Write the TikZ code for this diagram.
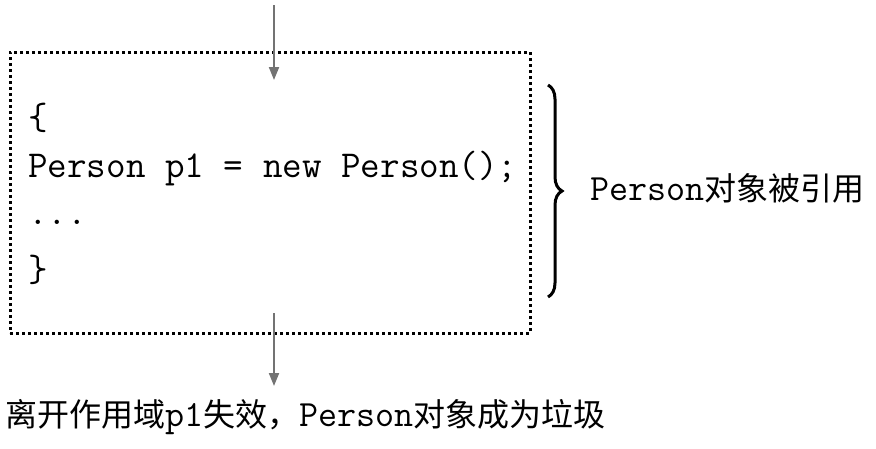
\documentclass[tikz,border=0pt]{standalone}
\usepackage{fontspec}
\newfontfamily\cjk{Noto Sans CJK SC}
\usetikzlibrary{arrows.meta,decorations.pathreplacing}
\tikzset{
  codeline/.style={anchor=west, inner sep=0pt, font=\fontsize{38}{44}\selectfont\ttfamily},
  label/.style={anchor=west, inner sep=0pt, font=\fontsize{32}{38}\selectfont},
  flowarrow/.style={draw=black!55, line width=2pt, -{Triangle[length=13pt,width=10pt]}},
  dotbox/.style={draw=black, line width=3pt, dash pattern=on 3pt off 3pt, minimum width=520pt, minimum height=281pt, inner sep=0pt},
  bracestyle/.style={decorate, decoration={brace, amplitude=14pt}, line width=3pt}
}
\newcommand{\lt}[1]{{\fontsize{37}{44}\selectfont\ttfamily #1}}
\begin{document}
\begin{tikzpicture}[x=1pt,y=1pt]
\useasboundingbox (0,0) rectangle (876,-448);
\node[dotbox] (box) at (270,-192.5) {};
\coordinate (topstart) at (274,-5);
\coordinate (topend) at (274,-80);
\coordinate (botstart) at (274,-313);
\coordinate (botend) at (274,-386);
\draw[flowarrow] (topstart) -- (topend);
\draw[flowarrow] (botstart) -- (botend);
\node[codeline] (l1) at (28,-118) {\{};
\node[codeline] (l2) at (28,-169) {Person p1 = new Person();};
\node[codeline] (l3) at (28,-222) {...};
\node[codeline] (l4) at (28,-270) {\}};
\coordinate (bracetop) at (548,-85);
\coordinate (bracebot) at (548,-297);
\draw[bracestyle] (bracetop) -- (bracebot);
\node[label] (ref) at (590,-188) {\lt{Person}{\cjk 对象被引用}};
\node[label] (bottom) at (5,-417) {{\cjk 离开作用域}\lt{p1}{\cjk 失效，}\lt{Person}{\cjk 对象成为垃圾}};
\end{tikzpicture}
\end{document}
